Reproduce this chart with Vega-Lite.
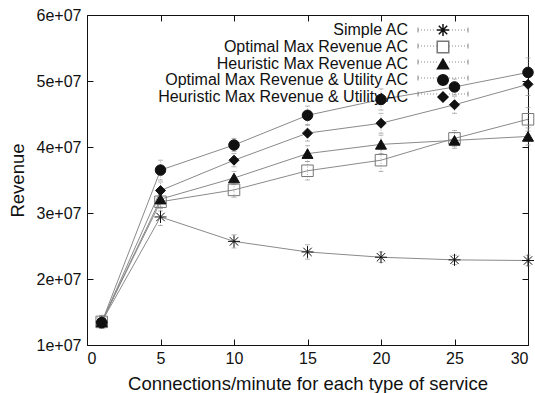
{
  "$schema": "https://vega.github.io/schema/vega-lite/v6.json",
  "autosize": {"type": "none"},
  "width": 441,
  "height": 330,
  "padding": {"left": 87, "top": 15, "right": 7, "bottom": 48},
  "config": {
    "font": "Liberation Sans",
    "view": {"stroke": "#111", "strokeWidth": 1},
    "axis": {"grid": false, "domain": false, "labelFontSize": 16, "labelColor": "#111", "titleFontSize": 18.5, "titleFontWeight": "normal", "titleColor": "#111", "tickColor": "#111", "tickSize": -6, "labelFont": "Liberation Sans", "titleFont": "Liberation Sans"}
  },
  "data": {
    "values": [
      {"series": "Simple AC", "x": 1, "y": 13500000, "lo": 12600000, "hi": 14400000},
      {"series": "Simple AC", "x": 5, "y": 29400000, "lo": 28100000, "hi": 30700000},
      {"series": "Simple AC", "x": 10, "y": 25700000, "lo": 24700000, "hi": 26700000},
      {"series": "Simple AC", "x": 15, "y": 24100000, "lo": 23000000, "hi": 25200000},
      {"series": "Simple AC", "x": 20, "y": 23300000, "lo": 22500000, "hi": 24100000},
      {"series": "Simple AC", "x": 25, "y": 22900000, "lo": 22200000, "hi": 23600000},
      {"series": "Simple AC", "x": 30, "y": 22800000, "lo": 22000000, "hi": 23600000},
      {"series": "Optimal Max Revenue AC", "x": 1, "y": 13500000, "lo": 12500000, "hi": 14500000},
      {"series": "Optimal Max Revenue AC", "x": 5, "y": 31700000, "lo": 30300000, "hi": 33100000},
      {"series": "Optimal Max Revenue AC", "x": 10, "y": 33500000, "lo": 32400000, "hi": 34600000},
      {"series": "Optimal Max Revenue AC", "x": 15, "y": 36400000, "lo": 35000000, "hi": 37800000},
      {"series": "Optimal Max Revenue AC", "x": 20, "y": 38000000, "lo": 36300000, "hi": 39700000},
      {"series": "Optimal Max Revenue AC", "x": 25, "y": 41300000, "lo": 40100000, "hi": 42500000},
      {"series": "Optimal Max Revenue AC", "x": 30, "y": 44200000, "lo": 42400000, "hi": 46000000},
      {"series": "Heuristic Max Revenue AC", "x": 1, "y": 13500000, "lo": 12600000, "hi": 14400000},
      {"series": "Heuristic Max Revenue AC", "x": 5, "y": 32100000, "lo": 30900000, "hi": 33300000},
      {"series": "Heuristic Max Revenue AC", "x": 10, "y": 35300000, "lo": 34300000, "hi": 36300000},
      {"series": "Heuristic Max Revenue AC", "x": 15, "y": 39000000, "lo": 37800000, "hi": 40200000},
      {"series": "Heuristic Max Revenue AC", "x": 20, "y": 40400000, "lo": 39000000, "hi": 41800000},
      {"series": "Heuristic Max Revenue AC", "x": 25, "y": 41000000, "lo": 39800000, "hi": 42200000},
      {"series": "Heuristic Max Revenue AC", "x": 30, "y": 41600000, "lo": 40300000, "hi": 42900000},
      {"series": "Optimal Max Revenue & Utility AC", "x": 1, "y": 13400000, "lo": 12500000, "hi": 14300000},
      {"series": "Optimal Max Revenue & Utility AC", "x": 5, "y": 36500000, "lo": 35000000, "hi": 38000000},
      {"series": "Optimal Max Revenue & Utility AC", "x": 10, "y": 40300000, "lo": 39300000, "hi": 41300000},
      {"series": "Optimal Max Revenue & Utility AC", "x": 15, "y": 44800000, "lo": 43400000, "hi": 46200000},
      {"series": "Optimal Max Revenue & Utility AC", "x": 20, "y": 47200000, "lo": 45600000, "hi": 48800000},
      {"series": "Optimal Max Revenue & Utility AC", "x": 25, "y": 49100000, "lo": 47900000, "hi": 50300000},
      {"series": "Optimal Max Revenue & Utility AC", "x": 30, "y": 51300000, "lo": 49300000, "hi": 53500000},
      {"series": "Heuristic Max Revenue & Utility AC", "x": 1, "y": 13400000, "lo": 12500000, "hi": 14300000},
      {"series": "Heuristic Max Revenue & Utility AC", "x": 5, "y": 33400000, "lo": 32100000, "hi": 34700000},
      {"series": "Heuristic Max Revenue & Utility AC", "x": 10, "y": 38000000, "lo": 37000000, "hi": 39000000},
      {"series": "Heuristic Max Revenue & Utility AC", "x": 15, "y": 42100000, "lo": 40900000, "hi": 43300000},
      {"series": "Heuristic Max Revenue & Utility AC", "x": 20, "y": 43600000, "lo": 42100000, "hi": 45100000},
      {"series": "Heuristic Max Revenue & Utility AC", "x": 25, "y": 46400000, "lo": 45100000, "hi": 47700000},
      {"series": "Heuristic Max Revenue & Utility AC", "x": 30, "y": 49500000, "lo": 47800000, "hi": 51200000}
    ]
  },
  "layer": [
    {
      "mark": {"type": "line", "strokeWidth": 1},
      "encoding": {
        "x": {"field": "x", "type": "quantitative", "scale": {"domain": [0, 30], "nice": false, "zero": false},
              "axis": {"orient": "top", "values": [0, 5, 10, 15, 20, 25, 30], "labels": false, "title": null}},
        "y": {"field": "y", "type": "quantitative", "scale": {"domain": [10000000, 60000000], "nice": false, "zero": false},
              "axis": {"orient": "right", "values": [10000000, 20000000, 30000000, 40000000, 50000000, 60000000], "labels": false, "title": null}},
        "color": {"field": "series", "type": "nominal",
          "scale": {
            "domain": ["Heuristic Max Revenue & Utility AC", "Optimal Max Revenue & Utility AC", "Heuristic Max Revenue AC", "Optimal Max Revenue AC", "Simple AC"],
            "range": ["#8a8a8a", "#8a8a8a", "#8a8a8a", "#8a8a8a", "#8a8a8a"]
          },
          "legend": {
            "orient": "none", "legendX": 348, "legendY": 7, "title": null, "padding": 0,
            "values": ["Simple AC", "Optimal Max Revenue AC", "Heuristic Max Revenue AC", "Optimal Max Revenue & Utility AC", "Heuristic Max Revenue & Utility AC"],
            "labelExpr": "' '",
            "labelFontSize": 16, "labelColor": "transparent", "labelAlign": "right", "labelBaseline": "middle", "labelOffset": -43, "labelLimit": 400,
            "rowPadding": -2, "symbolSize": 100, "symbolStrokeWidth": 1,
            "symbolType": "M-5,0H-4.8M-4.4,0H-4.2M-3.8,0H-3.6M-3.2,0H-3M-2.6,0H-2.4M-2,0H-1.8M-1.4,0H-1.2M1.2,0H1.4M1.8,0H2M2.4,0H2.6M3,0H3.2M3.6,0H3.8M4.2,0H4.4M4.8,0H5M-5,-0.5V0.5M5,-0.5V0.5"
          }
        }
      }
    },
    {
      "mark": {"type": "errorbar", "ticks": {"size": 5, "color": "#9a9a9a", "strokeWidth": 0.8}, "rule": {"strokeDash": [1, 1.5], "color": "#9a9a9a", "strokeWidth": 0.8}},
      "encoding": {
        "x": {"field": "x", "type": "quantitative", "axis": null},
        "y": {"field": "lo", "type": "quantitative", "axis": null},
        "y2": {"field": "hi"},
        "detail": {"field": "series", "type": "nominal"}
      }
    },
    {
      "mark": {"type": "point", "filled": false, "opacity": 1, "strokeWidth": 1},
      "encoding": {
        "x": {"field": "x", "type": "quantitative",
              "axis": {"values": [0, 5, 10, 15, 20, 25, 30], "title": "Connections/minute for each type of service", "labelPadding": 11, "titlePadding": 8}},
        "y": {"field": "y", "type": "quantitative",
              "axis": {"values": [10000000, 20000000, 30000000, 40000000, 50000000, 60000000], "labelExpr": "format(datum.value/10000000, 'd') + 'e+07'", "title": "Revenue", "labelPadding": 12, "titlePadding": 9}},
        "fill": {"field": "series", "type": "nominal",
          "scale": {
            "domain": ["Simple AC", "Optimal Max Revenue AC", "Heuristic Max Revenue AC", "Optimal Max Revenue & Utility AC", "Heuristic Max Revenue & Utility AC"],
            "range": ["transparent", "transparent", "#111", "#111", "#111"]
          },
          "legend": {
            "orient": "none", "legendX": 348, "legendY": 7, "title": null, "padding": 0,
            "labelFontSize": 16, "labelColor": "#111", "labelAlign": "right", "labelBaseline": "middle", "labelOffset": -43, "labelLimit": 400,
            "rowPadding": -2, "symbolSize": 100
          }
        },
        "shape": {"field": "series", "type": "nominal",
          "scale": {
            "domain": ["Simple AC", "Optimal Max Revenue AC", "Heuristic Max Revenue AC", "Optimal Max Revenue & Utility AC", "Heuristic Max Revenue & Utility AC"],
            "range": ["M-1,0L1,0M0,-1L0,1M-0.7,-0.7L0.7,0.7M-0.7,0.7L0.7,-0.7", "square", "triangle-up", "circle", "diamond"]
          }
        },
        "stroke": {"field": "series", "type": "nominal",
          "scale": {
            "domain": ["Simple AC", "Optimal Max Revenue AC", "Heuristic Max Revenue AC", "Optimal Max Revenue & Utility AC", "Heuristic Max Revenue & Utility AC"],
            "range": ["#111", "#777", "#111", "#111", "#111"]
          }
        },
        "size": {"field": "series", "type": "nominal",
          "scale": {
            "domain": ["Simple AC", "Optimal Max Revenue AC", "Heuristic Max Revenue AC", "Optimal Max Revenue & Utility AC", "Heuristic Max Revenue & Utility AC"],
            "range": [144, 100, 100, 115, 90]
          }
        }
      }
    }
  ],
  "resolve": {"axis": {"x": "independent", "y": "independent"}}
}
